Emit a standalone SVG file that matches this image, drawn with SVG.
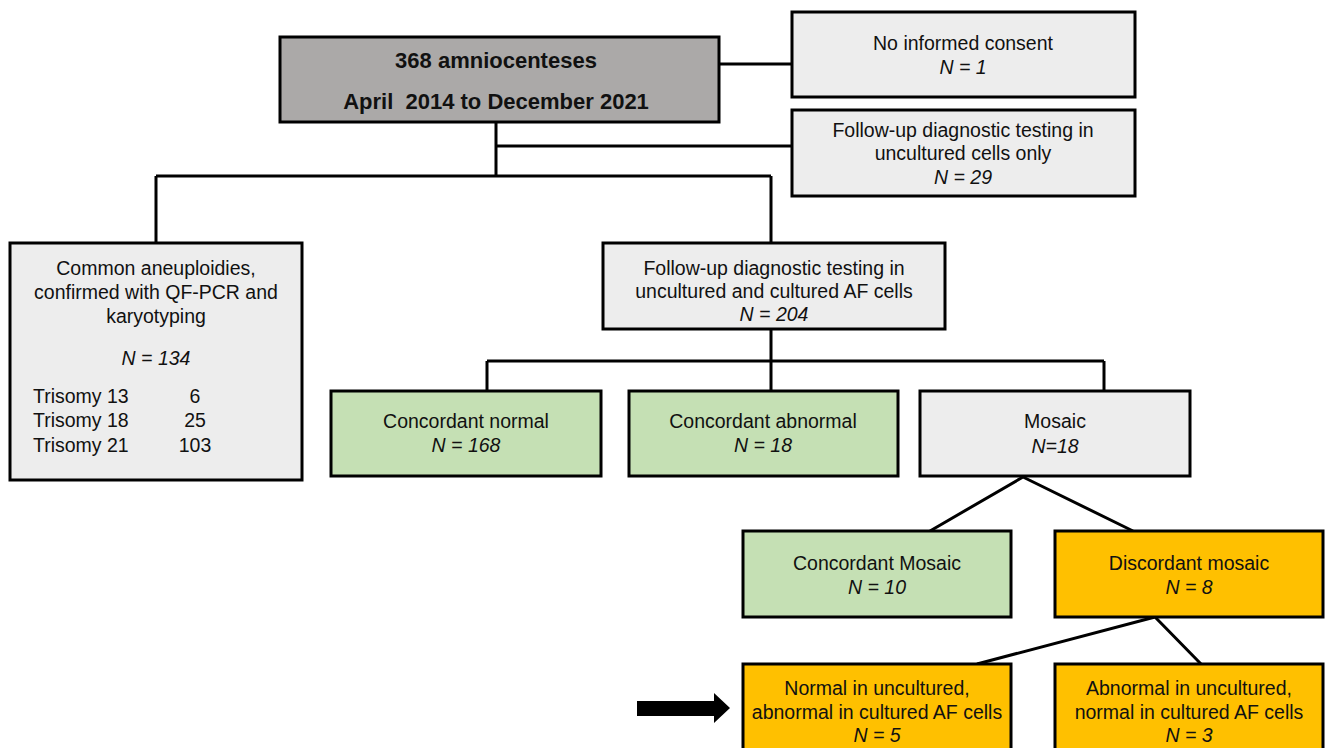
<svg xmlns="http://www.w3.org/2000/svg" width="1325" height="748" viewBox="0 0 1325 748">
<style>
.box{stroke:#000;stroke-width:3}
.dark{fill:#ABA9A8}
.light{fill:#EDEDED}
.green{fill:#C5E0B4}
.orange{fill:#FFC000}
text{font-family:"Liberation Sans",Arial,sans-serif;font-size:19.5px;fill:#111;text-anchor:middle}
.b{font-weight:bold;font-size:22px}
.i{font-style:italic}
.l{text-anchor:start}
.c{stroke:#000;stroke-width:3;fill:none}
</style>
<rect width="1325" height="748" fill="#fff"/>
<g id="connectors">
<path class="c" d="M719 64H792M496 122V176M496 146H792M156 176H771M156 176V243M771 176V243"/>
<path class="c" d="M771 329V361M487 361H1104M487 361V391M771 361V391M1104 361V391"/>
<path class="c" d="M1023 477L930 531M1023 477L1133 531"/>
<path class="c" d="M1155 617L977 664M1155 617L1201 664"/>
</g>
<g id="n-total">
<rect class="box dark" x="280" y="37" width="439" height="85"/>
<text class="b" x="496" y="68">368 amniocenteses</text>
<text class="b" x="496" y="109" xml:space="preserve">April  2014 to December 2021</text>
</g>
<g id="n-noconsent">
<rect class="box light" x="792" y="12" width="343" height="85"/>
<text x="963" y="50">No informed consent</text>
<text class="i" x="963" y="74">N = 1</text>
</g>
<g id="n-uncultured-only">
<rect class="box light" x="792" y="110" width="343" height="86"/>
<text x="963" y="137">Follow-up diagnostic testing in</text>
<text x="963" y="160">uncultured cells only</text>
<text class="i" x="963" y="184">N = 29</text>
</g>
<g id="n-aneuploidies">
<rect class="box light" x="10" y="243" width="292" height="237"/>
<text x="156" y="275">Common aneuploidies,</text>
<text x="156" y="299">confirmed with QF-PCR and</text>
<text x="156" y="323">karyotyping</text>
<text class="i" x="156" y="365">N = 134</text>
<text class="l" x="33" y="403">Trisomy 13</text>
<text x="195" y="403">6</text>
<text class="l" x="33" y="427">Trisomy 18</text>
<text x="195" y="427">25</text>
<text class="l" x="33" y="452">Trisomy 21</text>
<text x="195" y="452">103</text>
</g>
<g id="n-followup">
<rect class="box light" x="603" y="243" width="342" height="86"/>
<text x="774" y="275">Follow-up diagnostic testing in</text>
<text x="774" y="298">uncultured and cultured AF cells</text>
<text class="i" x="774" y="321">N = 204</text>
</g>
<g id="n-conc-normal">
<rect class="box green" x="331" y="391" width="270" height="85"/>
<text x="466" y="428">Concordant normal</text>
<text class="i" x="466" y="452">N = 168</text>
</g>
<g id="n-conc-abnormal">
<rect class="box green" x="629" y="391" width="269" height="85"/>
<text x="763" y="428">Concordant abnormal</text>
<text class="i" x="763" y="452">N = 18</text>
</g>
<g id="n-mosaic">
<rect class="box light" x="920" y="391" width="270" height="85"/>
<text x="1055" y="428">Mosaic</text>
<text class="i" x="1055" y="453">N=18</text>
</g>
<g id="n-conc-mosaic">
<rect class="box green" x="743" y="531" width="268" height="86"/>
<text x="877" y="570">Concordant Mosaic</text>
<text class="i" x="877" y="594">N = 10</text>
</g>
<g id="n-disc-mosaic">
<rect class="box orange" x="1055" y="531" width="268" height="86"/>
<text x="1189" y="570">Discordant mosaic</text>
<text class="i" x="1189" y="594">N = 8</text>
</g>
<g id="n-normal-uncultured">
<rect class="box orange" x="743" y="664" width="268" height="96"/>
<text x="877" y="695">Normal in uncultured,</text>
<text x="877" y="719">abnormal in cultured AF cells</text>
<text class="i" x="877" y="742">N = 5</text>
</g>
<g id="n-abnormal-uncultured">
<rect class="box orange" x="1055" y="664" width="268" height="96"/>
<text x="1189" y="695">Abnormal in uncultured,</text>
<text x="1189" y="719">normal in cultured AF cells</text>
<text class="i" x="1189" y="742">N = 3</text>
</g>
<g id="arrow">
<polygon points="637,701 714,701 714,693 730,708 714,723 714,716 637,716" fill="#000"/>
</g>
</svg>
